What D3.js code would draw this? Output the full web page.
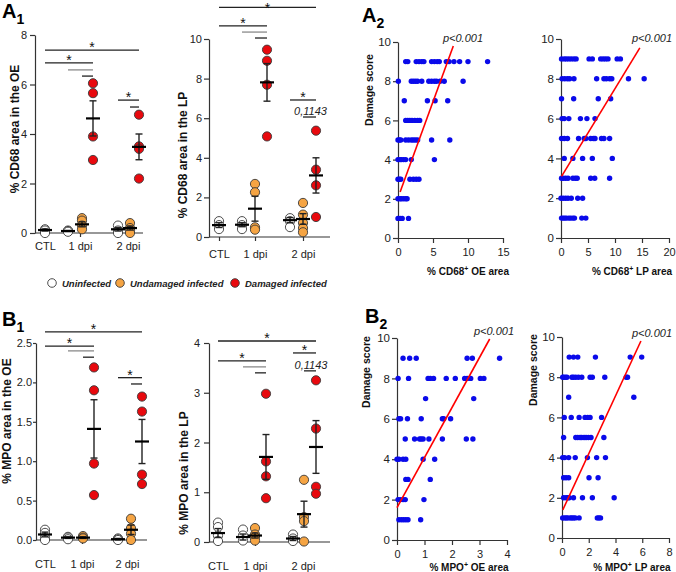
<!DOCTYPE html>
<html><head><meta charset="utf-8">
<script src="https://cdn.jsdelivr.net/npm/d3@7"></script>
<style>
body{margin:0;background:#fff}
svg{display:block}
text{font-family:"Liberation Sans",Arial,sans-serif}
</style>
</head><body>
<svg id="c" width="676" height="572"></svg>
<script>
// ---------- categories ----------
const groupKeys = ["CTL","1U","1N","1D","2U","2N","2D"];
const groupType = ["U","U","N","D","U","N","D"];
const dayLabels = ["CTL","1 dpi","2 dpi"];
const typeKeys = ["U","N","D"];
const typeLabels = ["Uninfected","Undamaged infected","Damaged infected"];

// ---------- A1 left: % CD68 area in the OE ----------
const cd68OE = [[0.15,0.1,0.0],[0.1,0.08,0.05],[0.6,0.5,0.3,0.15],[6.05,5.65,3.9,2.95],[0.3,0.1,0.0],[0.4,0.2,0.1,0.0],[4.78,3.5,3.4,2.2]];
const cd68OEMean = [0.12,0.08,0.35,4.63,0.15,0.2,3.48];
const cd68OESem = [0.04,0.02,0.1,0.71,0.07,0.08,0.52];
const cd68OETicks = [0,2,4,6,8];
const cd68OEBrackets = [["CTL","2D",7.39,"*",0],["CTL","1D",6.87,"*",0],["1U","1D",6.59,"",1],["1N","1D",6.34,"",0],["2U","2D",5.37,"*",0],["2N","2D",5.09,"",0]];

// ---------- A1 right: % CD68 area in the LP ----------
const cd68LP = [[0.8,0.6,0.4],[0.8,0.6,0.4],[2.68,2.26,0.49,0.37],[9.46,8.9,7.69,5.08],[0.95,0.8,0.5],[1.72,1.13,0.71,0.45,0.24],[5.37,3.4,2.61,1.01]];
const cd68LPMean = [0.6,0.62,1.43,7.81,0.85,0.91,3.11];
const cd68LPSem = [0.12,0.1,0.63,0.95,0.13,0.27,0.89];
const cd68LPTicks = [0,2,4,6,8,10];
const cd68LPBrackets = [["CTL","2D",11.6,"*",0],["CTL","1D",10.66,"*",0],["1U","1D",10.35,"",1],["1N","1D",10.05,"",0],["2U","2D",6.92,"*",0],["2N","2D",6.06,"0,1143",0]];

// ---------- B1 left: % MPO area in the OE ----------
const mpoOE = [[0.13,0.09,0.03,0.0],[0.04,0.03,0.01],[0.05,0.03,0.02],[2.19,1.9,0.97,0.57],[0.02,0.01,0.0],[0.27,0.15,0.08,0.0],[1.82,1.63,0.83,0.71]];
const mpoOEMean = [0.07,0.03,0.03,1.41,0.01,0.13,1.25];
const mpoOESem = [0.03,0.01,0.01,0.37,0.01,0.06,0.28];
const mpoOETicks = [0,0.5,1.0,1.5,2.0,2.5];
const mpoOEBrackets = [["CTL","2D",2.64,"*",0],["CTL","1D",2.46,"*",0],["1U","1D",2.40,"",1],["1N","1D",2.32,"",0],["2U","2D",2.06,"*",0],["2N","2D",1.98,"",0]];

// ---------- B1 right: % MPO area in the LP ----------
const mpoLP = [[0.39,0.3,0.13,0.02],[0.25,0.13,0.03],[0.28,0.15,0.1,0.03],[2.98,1.62,1.32,0.88],[0.15,0.07,0.02],[1.25,0.5,0.42,0.01],[3.25,2.28,1.11,0.97]];
const mpoLPMean = [0.18,0.1,0.13,1.71,0.07,0.56,1.91];
const mpoLPSem = [0.09,0.06,0.05,0.45,0.04,0.26,0.53];
const mpoLPTicks = [0,1,2,3,4];
const mpoLPBrackets = [["CTL","2D",4.04,"*",0],["CTL","1D",3.64,"*",0],["1U","1D",3.52,"",1],["1N","1D",3.40,"",0],["2U","2D",3.80,"*",0],["2N","2D",3.44,"0,1143",0]];

// ---------- scatter: damage score vs area ----------
const scoreLevels = [9,8,7,6,5,4,3,2,1];
const scoreTicks = [0,2,4,6,8,10];
const cd68OEx = [
  [1.1,1.4,2.6,3.0,3.4,3.7,4.8,5.2,5.6,5.9,6.9,7.3,8.0,8.8,10.0,12.8],
  [0.05,1.9,2.2,2.5,2.8,3.4,4.4,4.8,5.2,5.5,6.0,6.6,9.3],
  [0.9,4.2,5.3,7.1],
  [1.1,1.4,1.7,2.0,2.4,2.8,3.1],
  [0.0,0.2,0.4,1.1,1.5,1.9,2.2,2.5,2.8,4.8,7.4],
  [0.0,0.3,0.5,0.8,1.1,1.9,5.2],
  [0.0,0.2,0.4,1.7,2.2,2.6,3.0],
  [0.0,0.3,0.5,0.8,1.1,1.3],
  [0.0,0.3,0.6,1.5]];
const cd68OEFit = [[0.3,2.35],[7.9,9.8]];
const cd68OEXTicks = [0,5,10,15];

const cd68LPx = [
  [0.1,0.6,1.0,1.45,1.9,2.4,2.8,5.2,5.8,7.35,7.8,8.25,8.7,10.4,11.0],
  [0.2,0.7,1.2,1.6,2.4,6.6,7.95,8.4,9.0,9.4,12.5,15.4],
  [0.1,2.35,6.9,9.2],
  [0.2,0.6,1.45,3.6,4.8,6.3],
  [0.1,0.6,1.2,3.25,4.3,4.6,5.5,6.0,6.3,7.5,7.95,9.0],
  [0.6,2.2,4.0,5.8,9.5],
  [0.1,0.4,0.85,1.3,2.2,2.65,3.0,5.5,6.25,9.0],
  [0.0,0.4,0.85,1.3,1.9,3.1,4.0],
  [0.1,0.4,0.7,1.0,1.45,1.8,2.2,2.5,3.85,4.6]];
const cd68LPFit = [[0.1,3.1],[14.6,9.55]];
const cd68LPXTicks = [0,5,10,15,20];

const mpoOEx = [
  [0.22,0.46,0.7,2.55,2.74,3.73],
  [0.04,0.42,1.13,1.21,1.33,1.79,2.12,2.46,2.55,2.68,3.03,3.16],
  [1.04,2.79],
  [0.07,0.13,0.38,0.88,1.65,1.7,1.95],
  [0.3,0.64,0.82,0.88,0.95,1.16,1.65,2.52,2.76],
  [0.0,0.07,0.22,0.32,0.95,1.37],
  [0.32,0.4,1.21],
  [0.04,0.12,0.22,0.3,0.98],
  [0.07,0.16,0.24,0.32,0.4,0.86]];
const mpoOEFit = [[0.0,1.6],[3.37,9.95]];
const mpoOEXTicks = [0,1,2,3,4];

const mpoLPx = [
  [0.54,0.86,1.18,2.5,5.1,5.96],
  [0.05,0.12,0.25,0.37,0.74,0.86,1.03,1.23,1.48,2.1,2.27,3.2,4.8,4.9],
  [0.5,5.37],
  [0.17,0.69,1.28,1.72,1.92,2.1,2.96],
  [0.12,1.03,1.18,1.35,1.48,1.65,1.8,1.97,2.17,3.13],
  [0.05,0.2,0.5,0.99,1.9,2.59,3.25],
  [0.12,0.3,0.5,2.02,2.7],
  [0.12,0.3,0.44,0.54,0.86,1.53,2.27,3.9],
  [0.05,0.2,0.32,0.44,0.62,0.74,0.86,0.99,1.28,2.64,2.76,2.88]];
const mpoLPFit = [[0.06,1.4],[5.9,9.8]];
const mpoLPXTicks = [0,2,4,6,8];

// ---------- drawing ----------
const svg = d3.select("#c");
const FONT = '"Liberation Sans",Arial,sans-serif';
const AX = "#333";
const typeColor = d3.scaleOrdinal().domain(typeKeys).range(["#ffffff","#F5A443","#E8090E"]);

function styleAxis(sel, size){
  sel.attr("font-family", FONT).attr("font-size", size);
  sel.selectAll("path,line").attr("stroke", AX).attr("stroke-width", 1.2);
  sel.selectAll("text").attr("fill", "#222");
}

function panelLabel(x, y, letter, sub){
  const t = svg.append("text").attr("x", x).attr("y", y).attr("font-weight","bold").attr("font-size",20).attr("fill","#000");
  t.append("tspan").text(letter);
  t.append("tspan").attr("font-size",14).attr("dy",6).text(sub);
}

function yTitle(x, cy, txt, size){
  svg.append("text").attr("transform",`translate(${x},${cy}) rotate(-90)`)
    .attr("text-anchor","middle").attr("dominant-baseline","central")
    .attr("font-weight","bold").attr("font-size",size).attr("fill","#111").text(txt);
}

function dotPanel(c){
  const g = svg.append("g");
  const x = d3.scaleOrdinal().domain(groupKeys).range(c.pos);
  const y = d3.scaleLinear().domain(c.domain).range(c.yRange);
  const ya = g.append("g").attr("transform",`translate(${c.axisX},0)`)
    .call(d3.axisLeft(y).tickValues(c.ticks).tickFormat(c.fmt).tickSize(c.tickLen).tickPadding(c.tickPad).tickSizeOuter(0));
  styleAxis(ya, 11);
  const xl = d3.scaleOrdinal().domain(dayLabels).range(c.labelX);
  const xa = g.append("g").attr("transform",`translate(0,${y(0)})`)
    .call(d3.axisBottom(xl).tickSize(4).tickPadding(c.labelPad).tickSizeOuter(0));
  xa.select(".domain").remove();
  styleAxis(xa, 11);
  g.append("line").attr("x1",c.axisX).attr("x2",c.xEnd).attr("y1",y(0)).attr("y2",y(0))
    .attr("stroke",AX).attr("stroke-width",1.2);

  // points
  groupKeys.forEach((k,i)=>{
    g.selectAll(null).data(c.values[i]).join("circle")
      .attr("cx", x(k)).attr("cy", d=>y(d)).attr("r",4.6)
      .attr("fill", typeColor(groupType[i])).attr("stroke","#3a3a3a").attr("stroke-width",0.9);
  });
  // mean & SEM
  groupKeys.forEach((k,i)=>{
    const m = c.mean[i], s = c.sem[i], cx = x(k);
    g.append("line").attr("x1",cx).attr("x2",cx).attr("y1",y(m+s)).attr("y2",y(Math.max(0,m-s)))
      .attr("stroke","#222").attr("stroke-width",1.4);
    [m+s, Math.max(0,m-s)].forEach(v=>{
      g.append("line").attr("x1",cx-3.5).attr("x2",cx+3.5).attr("y1",y(v)).attr("y2",y(v))
        .attr("stroke","#222").attr("stroke-width",1.4);
    });
    g.append("line").attr("x1",cx-7).attr("x2",cx+7).attr("y1",y(m)).attr("y2",y(m))
      .attr("stroke","#000").attr("stroke-width",2.2);
  });
  // brackets
  c.brackets.forEach(b=>{
    const x1 = x(b[0]), x2 = x(b[1]), yy = y(b[2]);
    g.append("line").attr("x1",x1).attr("x2",x2).attr("y1",yy).attr("y2",yy)
      .attr("stroke", b[4] ? "#8a8a8a" : "#222").attr("stroke-width",1.3);
    if (b[3] === "*") {
      g.append("text").attr("x",(x1+x2)/2).attr("y",Math.max(yy+2, 13)).attr("text-anchor","middle")
        .attr("font-size",14).attr("fill","#111").text("*");
    } else if (b[3]) {
      g.append("text").attr("x",(x1+x2)/2+1).attr("y",yy-2).attr("text-anchor","middle")
        .attr("font-size",11).attr("font-style","italic").attr("fill","#222").text(b[3]);
    }
  });
  yTitle(c.titleX, c.titleCY, c.title, 12);
}

function scatterPanel(c){
  const g = svg.append("g");
  const x = d3.scaleLinear().domain(c.xDomain).range(c.xRange);
  const y = d3.scaleLinear().domain([0,10]).range(c.yRange);
  const ya = g.append("g").attr("transform",`translate(${c.xRange[0]},0)`)
    .call(d3.axisLeft(y).tickValues(scoreTicks).tickFormat(d3.format("d")).tickSize(5).tickPadding(2).tickSizeOuter(0));
  styleAxis(ya, 11.5);
  const xa = g.append("g").attr("transform",`translate(0,${c.yRange[0]})`)
    .call(d3.axisBottom(x).tickValues(c.xTicks).tickFormat(d3.format("d")).tickSize(5).tickPadding(5).tickSizeOuter(0));
  styleAxis(xa, 11);
  const pts = [];
  scoreLevels.forEach((s,i)=> c.xs[i].forEach(v=> pts.push([v,s])));
  g.selectAll(null).data(pts).join("circle")
    .attr("cx", d=>x(d[0])).attr("cy", d=>y(d[1])).attr("r",2.7).attr("fill","#0A0AEA");
  g.append("line").attr("x1",x(c.fit[0][0])).attr("y1",y(c.fit[0][1]))
    .attr("x2",x(c.fit[1][0])).attr("y2",y(c.fit[1][1]))
    .attr("stroke","#FF0000").attr("stroke-width",1.6);
  g.append("text").attr("x",c.pX).attr("y",c.pY).attr("text-anchor","middle")
    .attr("font-size",11).attr("font-style","italic").attr("fill","#222").text("p<0.001");
  const xt = g.append("text").attr("x",c.xtX).attr("y",c.xtY).attr("text-anchor","middle")
    .attr("font-size",10).attr("font-weight","bold").attr("fill","#111");
  xt.append("tspan").text("% " + c.marker);
  xt.append("tspan").attr("font-size",7).attr("dy",-4).text("+");
  xt.append("tspan").attr("dy",4).text(" " + c.region + " area");
  if (c.yTitle) yTitle(c.ytX, c.ytCY, "Damage score", 10.5);
}

// A1
panelLabel(2, 18, "A", "1");
dotPanel({values:cd68OE, mean:cd68OEMean, sem:cd68OESem, ticks:cd68OETicks, fmt:d3.format("d"), brackets:cd68OEBrackets,
  pos:[45,68,82,93,118,130,139], domain:[0,8], yRange:[233,35], axisX:35, xEnd:143, tickLen:5, tickPad:3,
  labelX:[45,80,128], labelPad:5, title:"% CD68 area in the OE", titleX:15, titleCY:129});
dotPanel({values:cd68LP, mean:cd68LPMean, sem:cd68LPSem, ticks:cd68LPTicks, fmt:d3.format("d"), brackets:cd68LPBrackets,
  pos:[219,242,255,267,290,303,316], domain:[0,10], yRange:[237,39], axisX:209, xEnd:330, tickLen:5, tickPad:2,
  labelX:[219,255,303], labelPad:9, title:"% CD68 area in the LP", titleX:183, titleCY:155});

// B1
panelLabel(2, 326, "B", "1");
dotPanel({values:mpoOE, mean:mpoOEMean, sem:mpoOESem, ticks:mpoOETicks, fmt:d3.format(".1f"), brackets:mpoOEBrackets,
  pos:[45,68,83,94,118,131,142], domain:[0,2.5], yRange:[540,343], axisX:36, xEnd:147, tickLen:3, tickPad:1,
  labelX:[45,82,127], labelPad:16, title:"% MPO area in the OE", titleX:7, titleCY:421});
dotPanel({values:mpoLP, mean:mpoLPMean, sem:mpoLPSem, ticks:mpoLPTicks, fmt:d3.format("d"), brackets:mpoLPBrackets,
  pos:[218,243,255,266,293,304,316], domain:[0,4], yRange:[542,343], axisX:209, xEnd:330, tickLen:5, tickPad:4,
  labelX:[218,255,303], labelPad:16, title:"% MPO area in the LP", titleX:184, titleCY:473});

// A2
panelLabel(362, 22, "A", "2");
scatterPanel({xs:cd68OEx, fit:cd68OEFit, xTicks:cd68OEXTicks, xDomain:[0,15], xRange:[398,503], yRange:[238,42],
  pX:463, pY:42, marker:"CD68", region:"OE", xtX:468, xtY:275, yTitle:true, ytX:369, ytCY:90});
scatterPanel({xs:cd68LPx, fit:cd68LPFit, xTicks:cd68LPXTicks, xDomain:[0,20], xRange:[561,669], yRange:[238,39],
  pX:652, pY:42, marker:"CD68", region:"LP", xtX:632, xtY:275, yTitle:false});

// B2
panelLabel(365, 323, "B", "2");
scatterPanel({xs:mpoOEx, fit:mpoOEFit, xTicks:mpoOEXTicks, xDomain:[0,4], xRange:[397,507], yRange:[540,338],
  pX:494, pY:335, marker:"MPO", region:"OE", xtX:469, xtY:571, yTitle:true, ytX:366, ytCY:372});
scatterPanel({xs:mpoLPx, fit:mpoLPFit, xTicks:mpoLPXTicks, xDomain:[0,8], xRange:[562,669], yRange:[538,337],
  pX:652, pY:337, marker:"MPO", region:"LP", xtX:632, xtY:571, yTitle:true, ytX:533, ytCY:370});

// legend
const legX = d3.scaleOrdinal().domain(typeKeys).range([52,120,235]);
const lg = svg.append("g");
typeKeys.forEach((k,i)=>{
  lg.append("circle").attr("cx",legX(k)).attr("cy",283).attr("r",4.3)
    .attr("fill",typeColor(k)).attr("stroke","#3a3a3a").attr("stroke-width",0.9);
  lg.append("text").attr("x",legX(k)+10).attr("y",286.5).attr("font-size",9.5)
    .attr("font-weight","bold").attr("font-style","italic").attr("fill","#222").text(typeLabels[i]);
});
</script>
</body></html>
